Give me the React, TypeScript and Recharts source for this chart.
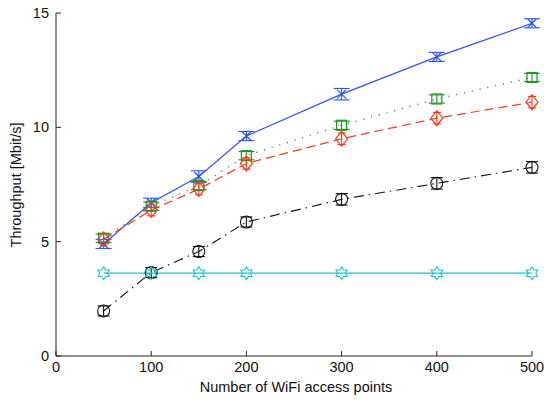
import { LineChart, Line, XAxis, YAxis, ErrorBar, Label } from 'recharts';

const accessPoints = [50, 100, 150, 200, 300, 400, 500];
const blueTput = [4.9, 6.7, 7.85, 9.62, 11.45, 13.08, 14.55];
const blueErr = [0.2, 0.2, 0.25, 0.2, 0.25, 0.2, 0.2];
const greenTput = [5.15, 6.55, 7.45, 8.76, 10.09, 11.24, 12.18];
const greenErr = [0.18, 0.18, 0.18, 0.18, 0.18, 0.18, 0.18];
const redTput = [5.1, 6.38, 7.3, 8.42, 9.5, 10.4, 11.1];
const redErr = [0.25, 0.25, 0.25, 0.25, 0.25, 0.25, 0.25];
const blackTput = [1.97, 3.65, 4.57, 5.86, 6.85, 7.55, 8.25];
const blackErr = [0.22, 0.22, 0.22, 0.22, 0.25, 0.25, 0.25];
const cyanTput = [3.62, 3.62, 3.62, 3.62, 3.62, 3.62, 3.62];

const xTicks = [0, 100, 200, 300, 400, 500];
const yTicks = [0, 5, 10, 15];

const data = accessPoints.map((ap, i) => ({
  ap,
  blue: blueTput[i],
  blueErr: blueErr[i],
  green: greenTput[i],
  greenErr: greenErr[i],
  red: redTput[i],
  redErr: redErr[i],
  black: blackTput[i],
  blackErr: blackErr[i],
  cyan: cyanTput[i],
}));

const BLUE = '#2d52ff';
const GREEN = '#1b941b';
const RED = '#ff3a1c';
const BLACK = '#111111';
const CYAN = '#18c6cc';
const FONT = '"Liberation Sans", Arial, sans-serif';

// marker shapes, drawn MATLAB style (unfilled)
const crossDot = (p: any) => {
  const { cx, cy } = p;
  const r = 4.5;
  return (
    <g key={`x${p.index}`} stroke={BLUE} strokeWidth={1.2} fill="none">
      <line x1={cx - r} y1={cy - r} x2={cx + r} y2={cy + r} />
      <line x1={cx - r} y1={cy + r} x2={cx + r} y2={cy - r} />
    </g>
  );
};

const squareDot = (p: any) => {
  const { cx, cy } = p;
  return (
    <rect key={`s${p.index}`} x={cx - 5} y={cy - 5} width={10} height={10}
      stroke={GREEN} strokeWidth={1.2} fill="none" />
  );
};

const diamondDot = (p: any) => {
  const { cx, cy } = p;
  const w = 6;
  const h = 7.5;
  return (
    <polygon key={`d${p.index}`}
      points={`${cx},${cy - h} ${cx + w},${cy} ${cx},${cy + h} ${cx - w},${cy}`}
      stroke={RED} strokeWidth={1.2} fill="none" />
  );
};

const circleDot = (p: any) => {
  const { cx, cy } = p;
  return (
    <circle key={`c${p.index}`} cx={cx} cy={cy} r={6}
      stroke={BLACK} strokeWidth={1.1} fill="none" />
  );
};

const hexagramDot = (p: any) => {
  const { cx, cy } = p;
  const r = 6.5;
  const pts = [];
  for (let k = 0; k < 12; k++) {
    const rad = k % 2 === 0 ? r : r * 0.58;
    const a = (Math.PI / 6) * k - Math.PI / 2;
    pts.push(`${cx + rad * Math.cos(a)},${cy + rad * Math.sin(a)}`);
  }
  return (
    <polygon key={`h${p.index}`} points={pts.join(' ')}
      stroke={CYAN} strokeWidth={1.1} fill="none" />
  );
};

const tickStyle = { fontSize: 14.5, fill: '#111', fontFamily: FONT };

export default function App() {
  return (
    <div style={{ position: 'absolute', left: 0, top: 0, background: '#fff' }}>
      <LineChart
        width={544}
        height={403}
        data={data}
        margin={{ top: 13, right: 12, left: 0, bottom: 0 }}
      >
        <XAxis
          dataKey="ap"
          type="number"
          domain={[0, 500]}
          ticks={xTicks}
          height={47}
          axisLine={{ stroke: '#222' }}
          tickLine={{ stroke: '#222' }}
          tickSize={-5}
          tickMargin={11}
          tick={tickStyle}
        >
          <Label
            content={() => (
              <text x={296} y={392} textAnchor="middle" fontSize={14.5}
                fontFamily={FONT} fill="#111">
                Number of WiFi access points
              </text>
            )}
          />
        </XAxis>
        <YAxis
          type="number"
          domain={[0, 15]}
          ticks={yTicks}
          width={56}
          axisLine={{ stroke: '#222' }}
          tickLine={{ stroke: '#222' }}
          tickSize={-5}
          tickMargin={12}
          tick={tickStyle}
        >
          <Label
            content={() => (
              <text x={21} y={185} textAnchor="middle" fontSize={14.5}
                fontFamily={FONT} fill="#111" transform="rotate(-90 21 185)">
                Throughput [Mbit/s]
              </text>
            )}
          />
        </YAxis>
        <Line dataKey="blue" stroke={BLUE} strokeWidth={1.2} dot={crossDot}
          isAnimationActive={false}>
          <ErrorBar dataKey="blueErr" direction="y" width={8} stroke={BLUE} strokeWidth={1.1} />
        </Line>
        <Line dataKey="green" stroke={GREEN} strokeWidth={1.4} strokeDasharray="1 7"
          dot={squareDot} isAnimationActive={false}>
          <ErrorBar dataKey="greenErr" direction="y" width={8} stroke={GREEN} strokeWidth={1.1} />
        </Line>
        <Line dataKey="red" stroke={RED} strokeWidth={1.2} strokeDasharray="9 5"
          dot={diamondDot} isAnimationActive={false}>
          <ErrorBar dataKey="redErr" direction="y" width={4} stroke={RED} strokeWidth={1.1} />
        </Line>
        <Line dataKey="black" stroke={BLACK} strokeWidth={1.1} strokeDasharray="10 5 1.5 5"
          dot={circleDot} isAnimationActive={false}>
          <ErrorBar dataKey="blackErr" direction="y" width={6} stroke={BLACK} strokeWidth={1.1} />
        </Line>
        <Line dataKey="cyan" stroke={CYAN} strokeWidth={1.2} dot={hexagramDot}
          isAnimationActive={false} />
      </LineChart>
    </div>
  );
}
